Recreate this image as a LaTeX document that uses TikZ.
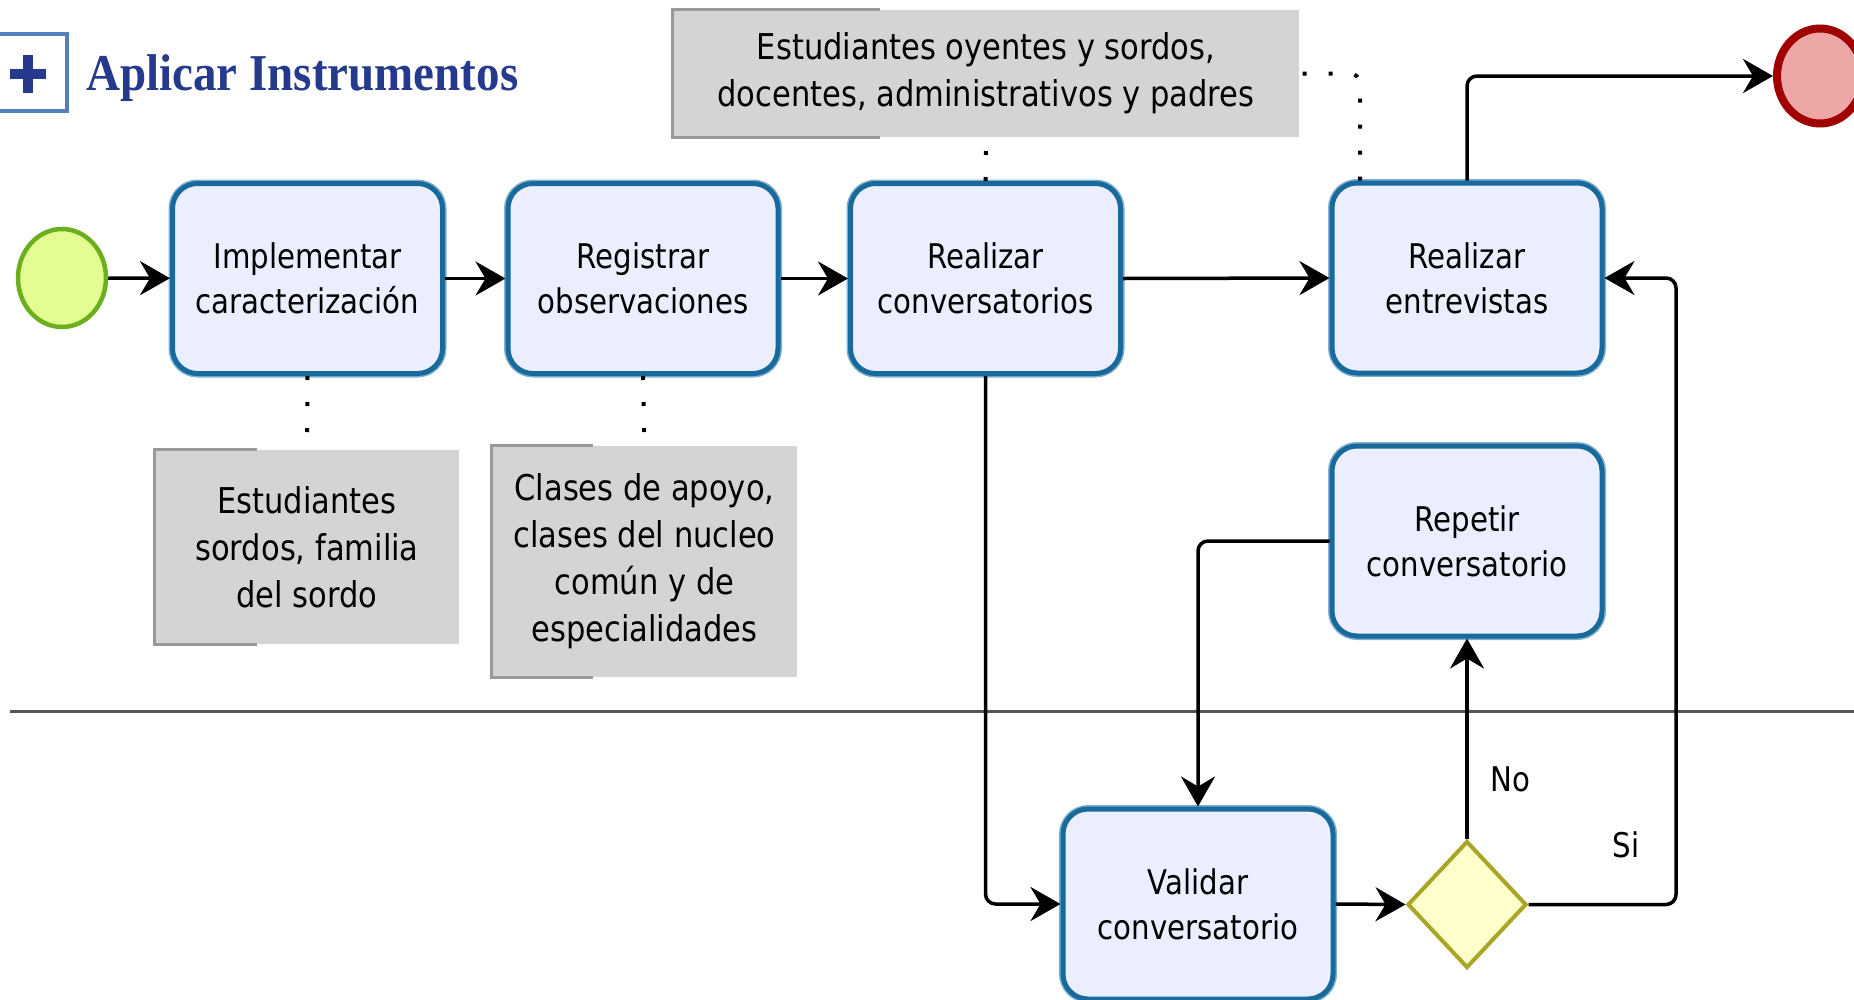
\documentclass[tikz,border=0pt]{standalone}
\usepackage{fontspec}
\usepackage{graphicx}
\usetikzlibrary{arrows.meta,shapes.geometric}
\newfontfamily\tahomalike[FakeStretch=0.86]{DejaVu Sans}
\newfontfamily\titleserif{Liberation Serif}
\definecolor{taskfill}{HTML}{EBEEFE}
\definecolor{taskline}{HTML}{176A9B}
\definecolor{taskhalo}{HTML}{80AFCE}
\definecolor{annofill}{HTML}{D4D4D4}
\definecolor{annoline}{HTML}{999999}
\definecolor{startfill}{HTML}{E3FD92}
\definecolor{startline}{HTML}{6BAF1F}
\definecolor{endfill}{HTML}{EDA7A7}
\definecolor{endline}{HTML}{A00000}
\definecolor{gwfill}{HTML}{FFFFCC}
\definecolor{gwline}{HTML}{A9A626}
\definecolor{titleblue}{HTML}{253A8C}
\definecolor{boxblue}{HTML}{4F81BD}
\definecolor{laneline}{HTML}{555555}
\tikzset{
  task/.style={draw=taskline, line width=5pt, fill=taskfill, rounded corners=25pt,
    preaction={draw=taskhalo, line width=8pt},
    minimum width=270pt, minimum height=190pt, inner sep=0pt, align=center,
    font=\tahomalike\fontsize{34}{45}\selectfont},
  anno/.style={fill=annofill, inner sep=0pt, align=center,
    font=\tahomalike\fontsize{35.5}{47}\selectfont},
  annobracket/.style={draw=annoline, line width=3pt},
  flow/.style={draw=black, line width=3.5pt, rounded corners=10pt,
    -{Stealth[length=30pt,width=34pt,inset=10pt]}},
  assoc/.style={draw=black, line width=4pt, dash pattern=on 4pt off 22pt},
  flowlabel/.style={font=\tahomalike\fontsize{34}{40}\selectfont, inner sep=0pt},
}
\begin{document}
\begin{tikzpicture}[x=1pt,y=-1pt]
\useasboundingbox (0,0) rectangle (1854,999);

% title
\node[draw=boxblue, line width=4pt, minimum width=77pt, minimum height=77pt, inner sep=0pt] (pb) at (28,72.5) {};
\draw[titleblue, line width=10pt] ([xshift=-18pt,yshift=-1.5pt]pb.center) -- ([xshift=18pt,yshift=-1.5pt]pb.center);
\draw[titleblue, line width=10pt] ([yshift=17.5pt]pb.center) -- ([yshift=-20.5pt]pb.center);
\node[anchor=base west, text=titleblue, inner sep=0pt,
  font=\titleserif\bfseries\fontsize{47}{50}\selectfont] (title) at (86,90)
  {\scalebox{1}[1.1]{Aplicar Instrumentos}};

% lane divider
\coordinate (laneL) at (9.5,711);
\coordinate (laneR) at (1854,711);
\draw[laneline, line width=3pt] (laneL) -- (laneR);

% events
\node[ellipse, draw=startline, line width=4.5pt, fill=startfill, minimum width=88pt, minimum height=98pt, inner sep=0pt] (start) at (62,278) {};
\node[ellipse, draw=endline, line width=8pt, fill=endfill, minimum width=86pt, minimum height=95pt, inner sep=0pt] (endev) at (1820,76) {};

% tasks
\node[task] (impl) at (307.5,278.5) {Implementar\\caracterización};
\node[task] (reg) at (643,278.5) {Registrar\\observaciones};
\node[task] (conv) at (985.5,278.5) {Realizar\\conversatorios};
\node[task] (ent) at (1467,278) {Realizar\\entrevistas};
\node[task] (rep) at (1467,541) {Repetir\\conversatorio};
\node[task] (val) at (1198,904) {Validar\\conversatorio};

% gateway
\node[diamond, draw=gwline, line width=4pt, fill=gwfill, minimum width=119pt, minimum height=127pt, inner sep=0pt] (gw) at (1467,904.5) {};

% annotations
\node[anno, minimum width=304pt, minimum height=194pt] (a1) at (307,547)
  {Estudiantes\\sordos, familia\\del sordo};
\node[anno, minimum width=305pt, minimum height=231pt] (a2) at (644.5,561.5)
  {Clases de apoyo,\\clases del nucleo\\común y de\\especialidades};
\node[anno, minimum width=626pt, minimum height=127pt] (a3) at (986,73.5)
  {Estudiantes oyentes y sordos,\\docentes, administrativos y padres};
\draw[annobracket] ([xshift=102pt]a1.north west) -- (a1.north west) -- (a1.south west) -- ([xshift=102pt]a1.south west);
\draw[annobracket] ([xshift=101pt]a2.north west) -- (a2.north west) -- (a2.south west) -- ([xshift=101pt]a2.south west);
\draw[annobracket] ([xshift=207pt]a3.north west) -- (a3.north west) -- (a3.south west) -- ([xshift=207pt]a3.south west);

% associations
\draw[assoc] (impl.south) -- (a1.north);
\draw[assoc] (reg.south) -- (a2.north);
\draw[assoc] (conv.north) -- (a3.south);
\draw[assoc, rounded corners=10pt] ([xshift=-107pt]ent.north) |- (a3.east);

% sequence flows
\draw[flow] (start) -- (impl);
\draw[flow] (impl) -- (reg);
\draw[flow] (reg) -- (conv);
\draw[flow] (conv.east) -- (ent.west);
\draw[flow] (ent.north) |- (endev.west);
\draw[flow] (conv.south) |- (val.west);
\draw[flow] (val.east) -- (gw.west);
\draw[flow] (gw.north) -- node[flowlabel, pos=0.3, xshift=43pt] {No} (rep.south);
\coordinate (sic) at (1676,600);
\draw[flow] (gw.east) -- node[flowlabel, pos=0.66, yshift=60pt] {Si} (gw.east -| sic) -- (ent.east -| sic) -- (ent.east);
\draw[flow] (rep.west) -| (val.north);
\end{tikzpicture}
\end{document}
